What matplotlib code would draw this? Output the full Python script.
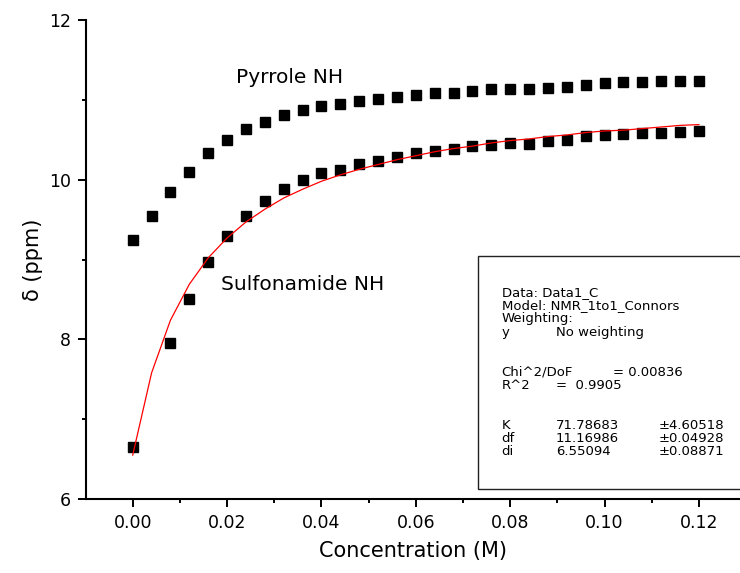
import numpy as np
import matplotlib
matplotlib.use('Agg')
import matplotlib.pyplot as plt
from matplotlib.patches import Rectangle
from matplotlib.ticker import MultipleLocator

plt.rcParams['font.family'] = ['DejaVu Sans']

# concentration steps (M)
conc = [0.000, 0.004, 0.008, 0.012, 0.016, 0.020, 0.024, 0.028, 0.032, 0.036,
        0.040, 0.044, 0.048, 0.052, 0.056, 0.060, 0.064, 0.068, 0.072, 0.076,
        0.080, 0.084, 0.088, 0.092, 0.096, 0.100, 0.104, 0.108, 0.112, 0.116,
        0.120]

# pyrrole NH shifts (ppm)
pyrrole = [9.24, 9.54, 9.84, 10.10, 10.34, 10.50, 10.63, 10.72, 10.81, 10.87,
           10.92, 10.95, 10.98, 11.01, 11.04, 11.06, 11.08, 11.09, 11.11, 11.13,
           11.14, 11.14, 11.15, 11.16, 11.19, 11.21, 11.22, 11.22, 11.23, 11.24,
           11.24]

# sulfonamide NH shifts (ppm), no point at 0.004
sulf_conc = [0.000, 0.008, 0.012, 0.016, 0.020, 0.024, 0.028, 0.032, 0.036,
             0.040, 0.044, 0.048, 0.052, 0.056, 0.060, 0.064, 0.068, 0.072, 0.076,
             0.080, 0.084, 0.088, 0.092, 0.096, 0.100, 0.104, 0.108, 0.112, 0.116,
             0.120]
sulfonamide = [6.65, 7.95, 8.50, 8.97, 9.30, 9.54, 9.73, 9.88, 9.99,
               10.08, 10.12, 10.19, 10.24, 10.29, 10.33, 10.36, 10.39, 10.42, 10.44,
               10.46, 10.45, 10.49, 10.50, 10.55, 10.56, 10.57, 10.58, 10.59, 10.60,
               10.61]

# fitted curve
fit = [6.55, 7.58, 8.24, 8.69, 9.02, 9.27, 9.47, 9.63, 9.77, 9.88,
       9.98, 10.06, 10.13, 10.19, 10.25, 10.30, 10.35, 10.39, 10.42, 10.46,
       10.49, 10.51, 10.54, 10.56, 10.59, 10.61, 10.62, 10.64, 10.66, 10.68,
       10.69]

# fit report box
box_lines = [
    (['Data: Data1_C'], 0),
    (['Model: NMR_1to1_Connors'], 1),
    (['Weighting:'], 2),
    (['y', 'No weighting'], 3),
    (['Chi^2/DoF', None, '= 0.00836'], 6),
    (['R^2', '=  0.9905'], 7),
    (['K', '71.78683', None, '\u00b14.60518'], 10),
    (['df', '11.16986', None, '\u00b10.04928'], 11),
    (['di', '6.55094', None, '\u00b10.08871'], 12),
]

W, H = 740, 573
fig = plt.figure(figsize=(W / 100, H / 100), dpi=100)
ax = fig.add_axes([86 / W, 1 - 499 / H, (W - 86) / W, (499 - 20) / H])

ax.plot(conc, pyrrole, 's', color='black', ms=7.5, zorder=2)
ax.plot(sulf_conc, sulfonamide, 's', color='black', ms=7.5, zorder=2)
ax.plot(conc, fit, '-', color='red', lw=0.9, zorder=3)

ax.set_xlim(-0.0099, 0.1287)
ax.set_ylim(6, 12)
ax.xaxis.set_major_locator(MultipleLocator(0.02))
ax.xaxis.set_minor_locator(MultipleLocator(0.01))
ax.yaxis.set_major_locator(MultipleLocator(2))
ax.yaxis.set_minor_locator(MultipleLocator(1))
ax.xaxis.set_major_formatter(plt.FormatStrFormatter('%.2f'))
ax.yaxis.set_major_formatter(plt.FormatStrFormatter('%d'))

for s in ['top', 'right']:
    ax.spines[s].set_visible(False)
for s in ['left', 'bottom']:
    ax.spines[s].set_linewidth(1.5)

ax.tick_params(which='major', direction='out', length=6, width=1.4, labelsize=12.5, pad=5)
ax.tick_params(which='minor', direction='out', length=3, width=1.4)

ax.set_xlabel('Concentration (M)', fontsize=15, labelpad=6)
ax.set_ylabel('\u03b4 (ppm)', fontsize=15, labelpad=4)

ax.text(0.0218, 11.28, 'Pyrrole NH', fontsize=14.5, ha='left', va='center')
ax.text(0.0187, 8.69, 'Sulfonamide NH', fontsize=14.5, ha='left', va='center')

# report box, running off the right edge
fig.add_artist(Rectangle((478 / W, 1 - 489 / H), (W + 10 - 478) / W, (489 - 256) / H,
                         transform=fig.transFigure, facecolor='white',
                         edgecolor='#222222', lw=1, clip_on=False, zorder=5))
cols = [501.7, 556, 613.3, 658.3]
for parts, row in box_lines:
    y = 292.3 + row * 13.3
    for i, t in enumerate(parts):
        if t is None:
            continue
        fig.text(cols[i] / W, 1 - y / H, t, fontsize=9.5, ha='left', va='center', zorder=6)

fig.savefig('out.png', dpi=100)
